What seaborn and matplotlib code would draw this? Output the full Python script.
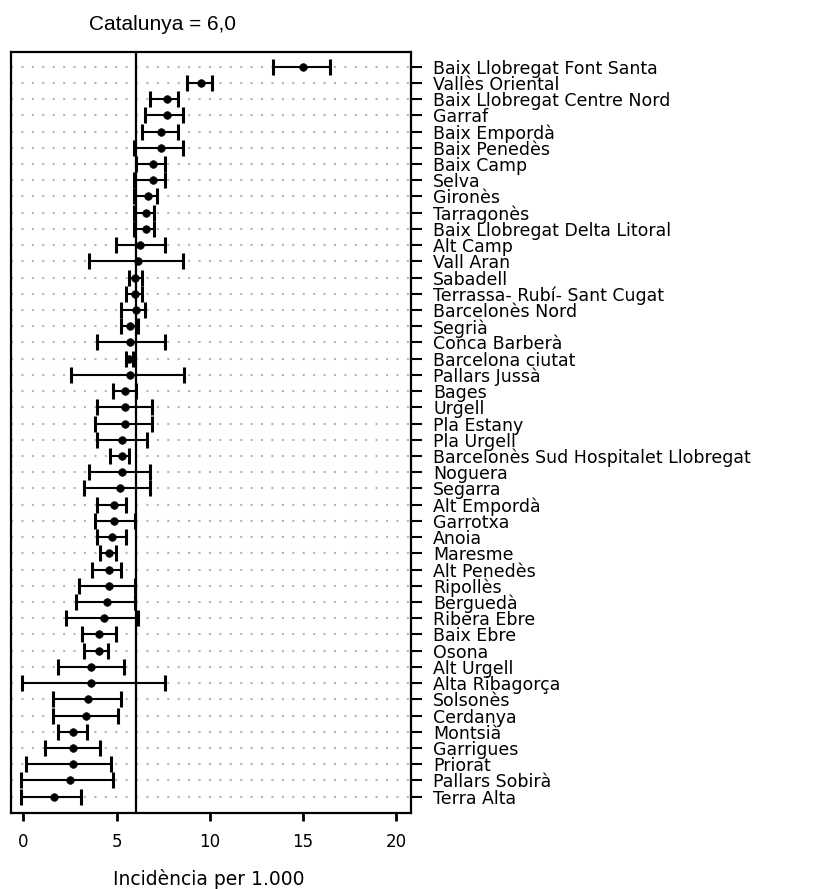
import matplotlib
matplotlib.use("Agg")
import matplotlib.pyplot as plt
import numpy as np
import pandas as pd
import seaborn as sns

# comarques ordered as in the chart (top to bottom)
comarca = [
    "Baix Llobregat Font Santa", "Vallès Oriental", "Baix Llobregat Centre Nord",
    "Garraf", "Baix Empordà", "Baix Penedès", "Baix Camp", "Selva", "Gironès",
    "Tarragonès", "Baix Llobregat Delta Litoral", "Alt Camp", "Vall Aran",
    "Sabadell", "Terrassa- Rubí- Sant Cugat", "Barcelonès Nord", "Segrià",
    "Conca Barberà", "Barcelona ciutat", "Pallars Jussà", "Bages", "Urgell",
    "Pla Estany", "Pla Urgell", "Barcelonès Sud Hospitalet Llobregat", "Noguera",
    "Segarra", "Alt Empordà", "Garrotxa", "Anoia", "Maresme", "Alt Penedès",
    "Ripollès", "Berguedà", "Ribera Ebre", "Baix Ebre", "Osona", "Alt Urgell",
    "Alta Ribagorça", "Solsonès", "Cerdanya", "Montsià", "Garrigues", "Priorat",
    "Pallars Sobirà", "Terra Alta",
]
incid = [
    14.99, 9.51, 7.69, 7.69, 7.40, 7.40, 6.96, 6.96, 6.69, 6.57, 6.57, 6.27,
    6.16, 6.00, 6.00, 6.04, 5.73, 5.73, 5.68, 5.73, 5.43, 5.43, 5.43, 5.30,
    5.30, 5.30, 5.18, 4.87, 4.87, 4.75, 4.61, 4.61, 4.61, 4.46, 4.32, 4.03,
    4.03, 3.63, 3.63, 3.48, 3.34, 2.64, 2.64, 2.66, 2.50, 1.66,
]
ci_low = [
    13.38, 8.76, 6.78, 6.52, 6.37, 5.96, 6.04, 5.94, 5.94, 5.94, 5.94, 4.97,
    3.50, 5.68, 5.50, 5.23, 5.23, 3.95, 5.52, 2.54, 4.82, 3.95, 3.82, 3.95,
    4.66, 3.54, 3.27, 3.95, 3.82, 3.95, 4.11, 3.68, 2.96, 2.84, 2.29, 3.12,
    3.27, 1.88, -0.10, 1.57, 1.57, 1.86, 1.14, 0.15, -0.12, -0.12,
]
ci_high = [
    16.48, 10.13, 8.31, 8.58, 8.31, 8.58, 7.59, 7.59, 7.19, 7.01, 7.01, 7.59,
    8.58, 6.36, 6.39, 6.52, 6.17, 7.60, 5.89, 8.62, 6.04, 6.92, 6.92, 6.62,
    5.64, 6.78, 6.78, 5.52, 6.00, 5.52, 4.97, 5.25, 6.00, 6.00, 6.17, 4.97,
    4.54, 5.39, 7.60, 5.25, 5.09, 3.39, 4.11, 4.68, 4.82, 3.09,
]
catalunya = 6.05
x_ticks = [0, 5, 10, 15, 20]

df = pd.DataFrame({"comarca": comarca, "incid": incid,
                   "lo": ci_low, "hi": ci_high})

sns.set_style("white")
plt.rcParams["font.family"] = ["DejaVu Sans"]
plt.rcParams["text.color"] = "black"

W, H = 830, 889
fig = plt.figure(figsize=(W / 100, H / 100), dpi=100)
ax = fig.add_axes([11 / W, (H - 812.7) / H, 400 / W, (812.7 - 52.3) / H])

sns.scatterplot(data=df, x="incid", y="comarca", color="black", s=30,
                edgecolor="black", linewidth=0.5, zorder=4, ax=ax, legend=False)
ax.errorbar(df["incid"], df["comarca"],
            xerr=[df["incid"] - df["lo"], df["hi"] - df["incid"]],
            fmt="none", ecolor="black", elinewidth=1.5, capsize=5.5,
            capthick=2.2, zorder=3)
ax.axvline(catalunya, color="black", lw=1.6, zorder=2)

ax.set_xlim(-0.67, 20.81)
ax.set_ylim(len(comarca) - 1 + 0.99, -0.89)
ax.grid(axis="y", linestyle=(0, (1, 4)), color="#b5b5b5", lw=1.5, zorder=0)
ax.grid(axis="x", visible=False)

ax.set_xticks(x_ticks)
ax.set_xticklabels([str(t) for t in x_ticks], fontsize=12)
ax.tick_params(axis="x", direction="out", length=5.5, width=2, pad=9,
               bottom=True, colors="black")
ax.yaxis.tick_right()
ax.tick_params(axis="y", direction="out", length=8, width=1.5, pad=8,
               right=True, left=False, labelsize=12.5, colors="black")
ax.set_xlabel("")
ax.set_ylabel("")
for s in ax.spines.values():
    s.set_color("black")
    s.set_linewidth(1.6)

fig.text(89 / W, (H - 30) / H, "Catalunya = 6,0", ha="left", va="baseline",
         fontsize=15, color="black", family=["Liberation Sans", "DejaVu Sans"])
fig.text(209 / W, (H - 885) / H, "Incidència per 1.000", ha="center",
         va="baseline", fontsize=13.5, color="black")

fig.savefig("out.png", dpi=100)
